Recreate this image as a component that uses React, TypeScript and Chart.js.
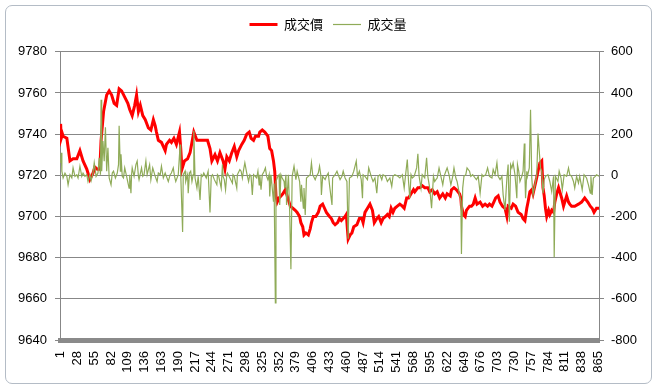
import React, { useEffect, useRef } from "react";
import { Chart, registerables } from "chart.js";

Chart.register(...registerables);

// category tick labels shown on the x axis
const xTickLabels = [1, 28, 55, 82, 109, 136, 163, 190, 217, 244, 271, 298, 325, 352, 379, 406, 433, 460, 487, 514, 541, 568, 595, 622, 649, 676, 703, 730, 757, 784, 811, 838, 865];

// 成交價 (price) — category index and value
const priceIdx = [1, 2, 4, 5, 11, 16, 21, 27, 32, 37, 43, 48, 53, 56, 60, 64, 66, 70, 75, 79, 83, 87, 91, 95, 99, 104, 109, 112, 116, 120, 123, 126, 129, 133, 137, 142, 146, 150, 153, 155, 158, 163, 169, 171, 176, 179, 183, 187, 192, 194, 196, 200, 205, 209, 212, 215, 220, 225, 231, 237, 241, 244, 249, 253, 257, 262, 265, 268, 272, 276, 280, 284, 287, 292, 296, 300, 304, 307, 311, 314, 319, 321, 325, 329, 334, 337, 340, 343, 345, 347, 349, 352, 355, 358, 362, 365, 370, 374, 378, 381, 385, 387, 390, 392, 395, 399, 402, 404, 407, 411, 415, 418, 422, 425, 428, 433, 436, 439, 442, 446, 449, 452, 455, 458, 460, 463, 466, 469, 472, 477, 481, 485, 487, 490, 494, 498, 502, 505, 509, 512, 516, 519, 523, 526, 529, 532, 535, 538, 542, 546, 550, 553, 557, 560, 564, 568, 570, 575, 578, 582, 586, 591, 594, 598, 602, 606, 610, 615, 619, 622, 627, 629, 633, 637, 642, 644, 645, 648, 651, 653, 658, 661, 664, 667, 670, 675, 679, 683, 687, 690, 694, 697, 700, 704, 707, 711, 715, 718, 720, 725, 728, 732, 736, 741, 744, 747, 750, 752, 755, 758, 760, 763, 766, 768, 771, 774, 776, 778, 780, 782, 785, 787, 790, 793, 795, 798, 801, 803, 806, 809, 811, 814, 817, 819, 822, 827, 833, 838, 843, 848, 852, 855, 858, 862, 866];
const priceVal = [9745, 9738, 9740, 9739, 9738, 9727, 9728, 9728, 9732, 9727, 9723, 9718, 9721, 9724, 9723, 9723, 9737, 9751, 9759, 9761, 9759, 9755, 9754, 9762, 9761, 9758, 9755, 9752, 9749, 9754, 9759, 9751, 9754, 9749, 9747, 9743, 9742, 9747, 9744, 9741, 9737, 9736, 9732, 9735, 9737, 9736, 9738, 9735, 9741, 9733, 9723, 9727, 9728, 9731, 9736, 9741, 9737, 9737, 9737, 9737, 9733, 9727, 9730, 9727, 9731, 9727, 9723, 9729, 9727, 9731, 9734, 9729, 9732, 9735, 9737, 9740, 9741, 9738, 9737, 9739, 9739, 9741, 9742, 9741, 9739, 9733, 9732, 9727, 9722, 9710, 9707, 9709, 9710, 9711, 9713, 9710, 9705, 9704, 9703, 9702, 9700, 9697, 9695, 9691, 9692, 9691, 9694, 9697, 9700, 9700, 9702, 9705, 9706, 9704, 9702, 9700, 9699, 9697, 9696, 9697, 9699, 9698, 9699, 9700, 9701, 9689, 9691, 9692, 9695, 9696, 9699, 9699, 9697, 9702, 9704, 9706, 9703, 9697, 9699, 9700, 9697, 9699, 9700, 9701, 9700, 9704, 9702, 9704, 9705, 9706, 9705, 9704, 9709, 9709, 9711, 9713, 9712, 9714, 9714, 9715, 9714, 9714, 9712, 9713, 9711, 9712, 9709, 9711, 9709, 9711, 9710, 9713, 9714, 9713, 9711, 9709, 9705, 9701, 9700, 9703, 9705, 9705, 9706, 9709, 9706, 9707, 9705, 9706, 9705, 9706, 9705, 9707, 9709, 9710, 9707, 9705, 9704, 9700, 9705, 9704, 9706, 9705, 9702, 9701, 9699, 9698, 9704, 9707, 9712, 9713, 9711, 9715, 9719, 9722, 9726, 9727, 9714, 9710, 9704, 9700, 9703, 9701, 9703, 9702, 9707, 9711, 9714, 9712, 9709, 9705, 9707, 9710, 9707, 9706, 9705, 9705, 9706, 9707, 9709, 9707, 9705, 9704, 9702, 9704, 9704];

// 成交量 (volume) — category index and value
const volIdx = [1, 2, 3, 5, 8, 11, 13, 16, 19, 21, 24, 27, 29, 32, 35, 37, 40, 43, 45, 48, 50, 53, 55, 58, 61, 63, 65, 66, 67, 69, 71, 73, 75, 77, 79, 82, 84, 86, 89, 92, 94, 95, 97, 98, 100, 102, 104, 107, 111, 112, 114, 115, 116, 119, 122, 124, 126, 127, 131, 133, 135, 138, 140, 144, 146, 149, 153, 156, 158, 161, 163, 166, 169, 171, 174, 177, 179, 182, 184, 186, 190, 193, 194, 197, 198, 201, 202, 205, 206, 208, 210, 212, 214, 215, 217, 220, 222, 225, 227, 229, 231, 235, 238, 241, 243, 245, 248, 252, 253, 255, 259, 261, 262, 264, 266, 268, 269, 273, 277, 278, 280, 284, 285, 289, 291, 293, 295, 297, 300, 303, 305, 307, 309, 311, 316, 318, 320, 321, 323, 325, 328, 330, 332, 334, 336, 337, 339, 343, 344, 346, 347, 350, 352, 353, 355, 357, 360, 361, 363, 364, 367, 369, 371, 373, 376, 378, 379, 381, 385, 387, 388, 391, 392, 394, 396, 399, 402, 404, 406, 410, 412, 415, 417, 419, 420, 422, 426, 428, 431, 433, 435, 437, 438, 442, 445, 447, 450, 453, 455, 458, 461, 463, 465, 469, 472, 476, 478, 481, 484, 486, 487, 490, 494, 496, 500, 503, 506, 509, 511, 514, 517, 519, 523, 526, 530, 533, 535, 538, 543, 546, 550, 553, 555, 558, 560, 562, 564, 566, 569, 573, 575, 577, 580, 582, 586, 589, 591, 594, 597, 600, 602, 604, 606, 609, 612, 615, 617, 620, 622, 625, 628, 631, 633, 636, 638, 642, 644, 645, 647, 649, 652, 654, 658, 660, 663, 667, 669, 672, 675, 678, 680, 684, 687, 690, 694, 696, 699, 702, 704, 707, 710, 712, 715, 718, 720, 722, 724, 726, 728, 731, 734, 735, 737, 739, 742, 744, 746, 747, 748, 750, 751, 754, 756, 758, 760, 763, 766, 768, 770, 772, 774, 776, 778, 780, 784, 787, 790, 793, 794, 796, 800, 802, 805, 807, 810, 814, 817, 819, 822, 825, 827, 830, 833, 835, 839, 842, 846, 849, 852, 853, 855, 857, 860, 862, 866];
const volVal = [60, 110, 20, -13, 11, -5, -46, 3, -13, 36, -5, 3, -13, 44, -5, 11, -5, 3, -30, 3, -26, 11, 61, -5, 11, 85, 3, 367, 20, 167, 69, 233, 20, 134, -13, -46, 11, 20, -13, 11, 52, 241, 20, 102, -5, -13, 36, -5, -62, 3, -87, 3, 36, -5, 52, 69, -5, -21, 36, -5, 3, 69, 3, 52, -21, 36, -5, -30, 11, 3, 44, -13, 11, -5, -30, 3, 11, 36, -5, -30, 3, 150, 3, -275, 3, 20, -30, 3, -87, 11, 20, -30, 3, 216, -13, -62, -5, -120, 3, -5, 11, -13, 20, -180, -5, 3, -21, -46, 3, -5, -62, 52, -5, -21, -70, 3, 11, -13, -38, 3, -5, -62, 3, 28, 20, -13, 28, 61, 11, -30, 3, -5, -95, 3, -13, 20, -46, 3, -70, 3, 20, 36, -5, -21, 3, -103, 3, -128, -40, -620, -30, -5, 3, -144, 3, -13, -30, -62, 3, -144, 3, -177, -456, -5, 44, 3, -21, 20, -30, -128, -46, -160, -62, -193, -13, -5, 3, 61, 3, -21, -5, 11, 44, 3, -95, -5, -21, -5, 11, -46, -95, -144, -13, 3, 20, 3, -21, -5, 20, -13, -30, -308, -13, -5, 20, 69, -5, 20, -21, -111, 3, -5, -21, 36, -5, -30, -13, -87, -5, 3, -21, 3, -5, -30, -13, -54, -5, 3, -5, -13, 3, -62, -5, 77, -30, -111, 3, -13, -5, 36, 105, -5, -62, 3, -13, 85, -5, -62, -160, -5, -30, -21, -13, 36, -5, -46, -5, 20, 36, 3, -46, -5, 36, -13, -30, -95, -128, -382, -62, -5, 3, 36, 20, -5, 3, -13, -21, -5, -87, 3, -5, 3, 36, -5, -13, 28, 3, 61, -5, -21, -5, -95, -169, -13, 52, -226, 52, 36, 61, 3, -111, 52, 20, -30, -5, 20, 154, -5, -111, 20, -5, 36, 318, -13, -95, -46, 3, 203, 118, 36, 20, -87, -21, -5, 3, -30, -79, -5, -398, -5, -30, 20, -13, -70, 3, -5, 36, 3, -5, -30, -62, -5, -38, -5, -70, 3, -13, -46, -87, -5, -95, -13, -5, 3, -5];

const tickFont = { family: "'Liberation Sans', Arial, sans-serif", size: 13 };
const gridColor = "#878787";

export default function App() {
  const ref = useRef<HTMLCanvasElement>(null);
  useEffect(() => {
    const chart = new Chart(ref.current as HTMLCanvasElement, {
      type: "line",
      data: {
        datasets: [
          {
            label: "成交價",
            data: priceIdx.map((x, i) => ({ x, y: priceVal[i] })),
            borderColor: "#ff0000",
            backgroundColor: "#ff0000",
            borderWidth: 3,
            pointRadius: 0,
            tension: 0,
            yAxisID: "y",
            order: 2,
          },
          {
            label: "成交量",
            data: volIdx.map((x, i) => ({ x, y: volVal[i] })),
            borderColor: "#8fab58",
            backgroundColor: "#8fab58",
            borderWidth: 1.2,
            pointRadius: 0,
            tension: 0,
            yAxisID: "y1",
            order: 1,
          },
        ],
      },
      options: {
        responsive: false,
        animation: false,
        events: [],
        layout: { padding: { top: 2, left: 0, right: 0, bottom: 0 } },
        plugins: {
          tooltip: { enabled: false },
          title: {
            display: true,
            text: " ",
            weight: 500,
            padding: 0,
            font: { size: 9, lineHeight: 1.2 },
          },
          legend: {
            position: "top",
            labels: {
              usePointStyle: true,
              pointStyle: "line",
              pointStyleWidth: 28,
              padding: 10,
              color: "#000",
              font: { family: "'Noto Sans CJK TC', 'Noto Sans CJK SC', sans-serif", size: 13 },
              sort: (a: any, b: any) => a.datasetIndex - b.datasetIndex,
            },
          },
        },
        scales: {
          x: {
            type: "linear",
            min: 0,
            max: 866,
            afterBuildTicks: (s: any) => {
              s.ticks = xTickLabels.map((v) => ({ value: v }));
            },
            afterFit: (s: any) => {
              s.height = 42;
            },
            ticks: {
              autoSkip: false,
              minRotation: 90,
              maxRotation: 90,
              padding: 11,
              color: "#000",
              font: tickFont,
              callback: (v: any) => String(v),
            },
            grid: { display: false, drawTicks: false },
            border: { color: "#8a8a8a", width: 5 },
          },
          y: {
            position: "left",
            min: 9640,
            max: 9780,
            afterFit: (s: any) => {
              s.width = 54;
            },
            ticks: {
              stepSize: 20,
              padding: 8,
              color: "#000",
              font: tickFont,
              callback: (v: any) => String(v),
            },
            grid: { color: gridColor, tickLength: 5, lineWidth: 1 },
            border: { color: gridColor, width: 1 },
          },
          y1: {
            position: "right",
            min: -800,
            max: 600,
            afterFit: (s: any) => {
              s.width = 51;
            },
            ticks: {
              stepSize: 200,
              padding: 7,
              color: "#000",
              font: tickFont,
              callback: (v: any) => String(v),
            },
            grid: { drawOnChartArea: false, color: gridColor, tickLength: 5 },
            border: { color: gridColor, width: 1 },
          },
        },
      },
    });
    return () => chart.destroy();
  }, []);

  return (
    <div style={{ position: "fixed", left: 0, top: 0, width: 658, height: 388, background: "#ffffff", overflow: "hidden" }}>
      <div
        style={{
          position: "absolute",
          left: 5,
          top: 5,
          width: 645,
          height: 377,
          border: "1px solid #b4bcc6",
          borderRadius: 7,
          background: "#ffffff",
        }}
      />
      <canvas ref={ref} width={644} height={376} style={{ position: "absolute", left: 6, top: 6, width: 644, height: 376 }} />
    </div>
  );
}
